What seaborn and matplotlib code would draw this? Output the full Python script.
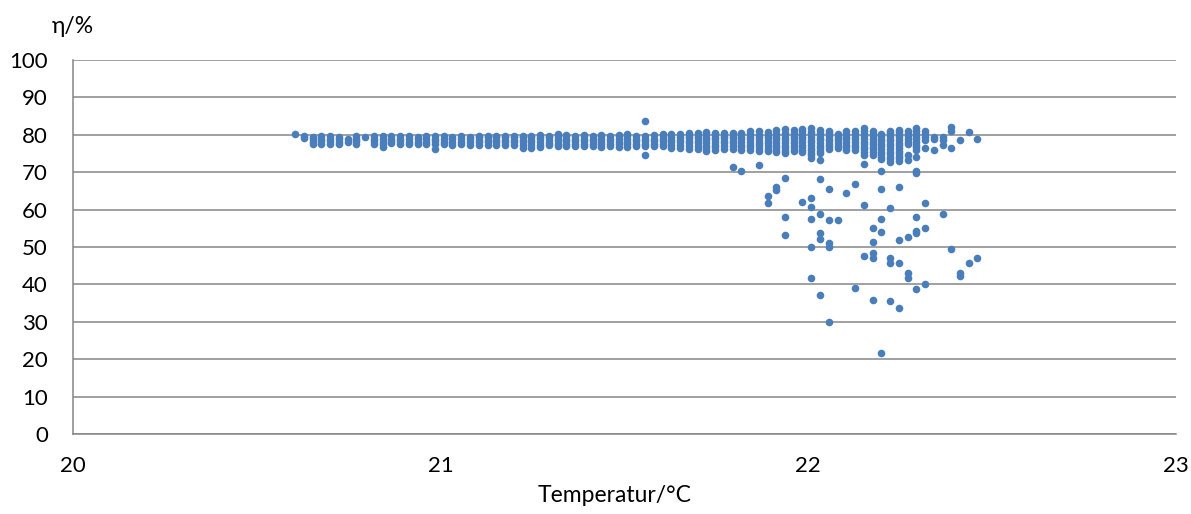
import matplotlib
matplotlib.use("Agg")
import matplotlib.pyplot as plt
import seaborn as sns
import pandas as pd

# Measurement temperatures (°C), one entry per logged temperature step
temps = [
    20.604, 20.628, 20.652, 20.675, 20.699, 20.723, 20.747, 20.771, 20.794, 20.818,
    20.842, 20.866, 20.890, 20.913, 20.937, 20.961, 20.985, 21.009, 21.032, 21.056,
    21.080, 21.104, 21.128, 21.151, 21.175, 21.199, 21.223, 21.247, 21.270, 21.294,
    21.318, 21.342, 21.366, 21.389, 21.413, 21.437, 21.461, 21.485, 21.508, 21.532,
    21.556, 21.580, 21.604, 21.627, 21.651, 21.675, 21.699, 21.723, 21.746, 21.770,
    21.794, 21.818, 21.842, 21.865, 21.889, 21.913, 21.937, 21.961, 21.984, 22.008,
    22.032, 22.056, 22.080, 22.103, 22.127, 22.151, 22.175, 22.199, 22.222, 22.246,
    22.270, 22.294, 22.318, 22.341, 22.365, 22.389, 22.413, 22.437, 22.460,
]

# Efficiency readings (%) recorded at each temperature step
eta_at_temp = [
    [80.1],
    [79.2, 79.7],
    [77.6, 78.2, 78.8, 79.4],
    [77.6, 78.3, 79.0, 79.7],
    [77.6, 78.3, 79.0, 79.7],
    [77.6, 78.2, 78.8, 79.4],
    [78.2, 78.9],
    [77.6, 78.3, 79.0, 79.7],
    [79.4],
    [77.6, 78.3, 79.0, 79.7],
    [76.8, 77.5, 78.2, 78.9, 79.6],
    [77.7, 78.4, 79.0, 79.7],
    [77.6, 78.3, 79.0, 79.6],
    [77.5, 78.2, 78.9, 79.6],
    [77.5, 78.2, 78.9, 79.5],
    [77.5, 78.2, 78.9, 79.6],
    [76.3, 77.6, 78.3, 79.0, 79.6],
    [77.5, 78.2, 78.9, 79.6],
    [77.4, 78.1, 78.8, 79.5],
    [77.5, 78.2, 78.9, 79.6],
    [77.4, 78.1, 78.8, 79.5],
    [77.3, 78.0, 78.7, 79.4, 79.8],
    [77.3, 78.0, 78.7, 79.4, 79.8],
    [77.3, 78.0, 78.7, 79.4, 79.8],
    [77.3, 78.0, 78.7, 79.4, 79.8],
    [77.3, 78.0, 78.7, 79.4, 79.8],
    [76.6, 77.3, 78.0, 78.7, 79.4, 79.8],
    [76.6, 77.3, 78.0, 78.7, 79.4, 79.8],
    [76.7, 77.4, 78.1, 78.8, 79.5, 79.9],
    [77.2, 77.9, 78.6, 79.3, 79.8],
    [76.9, 77.6, 78.3, 79.0, 79.7, 80.3],
    [76.9, 77.6, 78.3, 79.0, 79.7, 80.0],
    [76.9, 77.6, 78.3, 79.0, 79.7],
    [76.9, 77.6, 78.3, 79.0, 79.7, 80.0],
    [76.9, 77.6, 78.3, 79.0, 79.7],
    [76.8, 77.5, 78.2, 78.9, 79.6, 80.0],
    [76.9, 77.6, 78.3, 79.0, 79.7],
    [76.8, 77.5, 78.2, 78.9, 79.6, 80.0],
    [76.8, 77.5, 78.2, 78.9, 79.6, 80.2],
    [76.9, 77.6, 78.3, 79.0, 79.8],
    [74.6, 76.9, 77.6, 78.3, 79.0, 79.8, 83.7],
    [76.9, 77.6, 78.3, 79.0, 79.9],
    [76.9, 77.6, 78.3, 79.0, 79.7, 80.3],
    [76.6, 77.3, 78.0, 78.7, 79.4, 80.1],
    [76.6, 77.3, 78.0, 78.7, 79.4, 80.1],
    [76.3, 77.0, 77.7, 78.4, 79.1, 79.8, 80.4],
    [76.3, 77.0, 77.7, 78.4, 79.1, 79.8, 80.4],
    [75.7, 76.4, 77.1, 77.8, 78.5, 79.2, 79.9, 80.8],
    [76.0, 76.7, 77.4, 78.1, 78.8, 79.5, 80.2, 80.6],
    [76.3, 77.0, 77.7, 78.4, 79.1, 79.8, 80.6],
    [76.3, 77.0, 77.7, 78.4, 79.1, 79.8, 80.6],
    [76.0, 76.7, 77.4, 78.1, 78.8, 79.5, 80.2, 80.6],
    [76.0, 76.7, 77.4, 78.1, 78.8, 79.5, 80.2, 80.9],
    [75.8, 76.5, 77.2, 77.9, 78.6, 79.3, 80.0, 80.9],
    [75.6, 76.3, 77.0, 77.7, 78.4, 79.1, 79.8, 80.8],
    [75.3, 76.0, 76.7, 77.4, 78.1, 78.8, 79.5, 80.2, 81.2],
    [75.0, 75.7, 76.4, 77.1, 77.8, 78.5, 79.2, 79.9, 80.6, 81.6],
    [75.6, 76.3, 77.0, 77.7, 78.4, 79.1, 79.8, 80.5, 81.2],
    [75.3, 76.0, 76.7, 77.4, 78.1, 78.8, 79.5, 80.2, 80.9, 81.6],
    [73.7, 74.5, 75.2, 75.9, 76.6, 77.3, 78.0, 78.7, 79.4, 80.1, 80.8, 81.8],
    [73.3, 75.0, 75.7, 76.4, 77.1, 77.8, 78.5, 79.2, 79.9, 80.6, 81.4],
    [76.2, 76.9, 77.6, 78.3, 79.0, 79.7, 80.4, 80.9],
    [76.4, 77.1, 77.8, 78.5, 79.2, 79.8, 80.3],
    [76.0, 76.7, 77.4, 78.1, 78.8, 79.5, 80.2, 80.9],
    [76.0, 76.7, 77.4, 78.1, 78.8, 79.5, 80.2, 80.9],
    [72.3, 74.7, 75.4, 76.1, 76.8, 77.5, 78.2, 78.9, 79.6, 80.3, 81.0, 81.7],
    [74.7, 75.4, 76.1, 76.8, 77.5, 78.2, 78.9, 79.6, 80.3, 80.9],
    [70.4, 73.4, 74.1, 74.8, 75.5, 76.2, 76.9, 77.6, 78.3, 79.0, 79.7, 80.3],
    [72.7, 73.4, 74.1, 74.8, 75.5, 76.2, 76.9, 77.6, 78.3, 79.0, 79.7, 80.4, 80.9],
    [73.0, 73.7, 74.4, 75.1, 75.8, 76.5, 77.2, 77.9, 78.6, 79.3, 80.0, 80.7, 81.4],
    [73.3, 74.5, 77.5, 78.2, 78.9, 79.6, 80.3, 81.1],
    [70.4, 74.1, 76.0, 76.7, 77.4, 78.1, 78.8, 79.5, 80.2, 80.9, 81.8],
    [76.4, 78.6, 79.3, 80.1, 80.9],
    [75.9, 78.8, 79.5],
    [77.3, 78.5, 79.5],
    [76.6, 81.0, 82.2],
    [78.6],
    [80.7],
    [78.8],
]

# Readings that dropped well below the main band
low_temps = [
    21.794, 21.818, 21.865, 21.889, 21.889, 21.913, 21.913, 21.937, 21.937, 21.937,
    21.984, 22.008, 22.008, 22.008, 22.008, 22.008, 22.032, 22.032, 22.032, 22.032,
    22.032, 22.056, 22.056, 22.056, 22.056, 22.056, 22.080, 22.103, 22.127, 22.127,
    22.151, 22.151, 22.175, 22.175, 22.175, 22.175, 22.175, 22.199, 22.199, 22.199,
    22.199, 22.222, 22.222, 22.222, 22.222, 22.246, 22.246, 22.246, 22.246, 22.270,
    22.270, 22.270, 22.294, 22.294, 22.294, 22.294, 22.294, 22.318, 22.318, 22.318,
    22.365, 22.389, 22.413, 22.413, 22.437, 22.460,
]
low_eta = [
    71.3, 70.4, 71.9, 63.6, 61.7, 66.0, 65.2, 68.4, 58.1, 53.1,
    62.1, 63.2, 60.8, 57.6, 50.1, 41.6, 68.1, 58.8, 53.8, 52.1,
    37.2, 65.5, 57.2, 51.2, 49.9, 29.9, 57.3, 64.4, 66.8, 39.0,
    61.2, 47.6, 55.2, 51.4, 48.5, 47.0, 35.8, 65.4, 57.4, 54.1,
    21.6, 60.3, 47.1, 45.8, 35.6, 66.1, 51.8, 45.8, 33.8, 52.6,
    43.0, 41.6, 58.1, 53.7, 54.3, 38.8, 69.9, 61.8, 55.0, 40.1,
    58.7, 49.5, 43.0, 42.2, 45.6, 47.0,
]

rows = [(t, e) for t, vals in zip(temps, eta_at_temp) for e in vals]
rows += list(zip(low_temps, low_eta))
df = pd.DataFrame(rows, columns=["Temperatur", "eta"])

sns.set_theme(style="white")
plt.rcParams["font.family"] = ["Lato", "DejaVu Sans"]

fig = plt.figure(figsize=(11.91, 5.14), dpi=100)
ax = fig.add_axes([0.0613, 0.1556, 0.9261, 0.7277])

grey = "#868686"
sns.scatterplot(data=df, x="Temperatur", y="eta", ax=ax, color="#4a7ebb",
                s=30, linewidth=0, legend=False, zorder=3)

ax.set_xlim(20, 23)
ax.set_ylim(0, 100)
ax.set_xticks([20, 21, 22, 23])
ax.set_yticks(range(0, 101, 10))
ax.yaxis.grid(True, color=grey, linewidth=1.1)
ax.xaxis.grid(False)
ax.set_axisbelow(True)

for side in ("top", "right"):
    ax.spines[side].set_visible(False)
for side in ("left", "bottom"):
    ax.spines[side].set_color(grey)
    ax.spines[side].set_linewidth(1.1)

ax.tick_params(axis="both", which="major", direction="out", length=6,
               width=1.1, color=grey, labelsize=16, labelcolor="black")
ax.tick_params(axis="y", pad=12)
ax.tick_params(axis="x", pad=10)

ax.set_xlabel("Temperatur/°C", fontsize=16.5, color="black", labelpad=6)
ax.xaxis.label.set_x(0.491)
ax.set_ylabel("")
fig.text(0.061, 0.948, "η/%", fontsize=16.5, ha="center", va="center", color="black")

fig.savefig("out.png", dpi=100)
